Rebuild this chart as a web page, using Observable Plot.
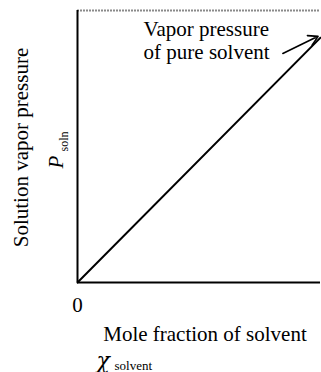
<!DOCTYPE html>
<html>
<head>
<meta charset="utf-8">
<script src="https://cdn.jsdelivr.net/npm/d3@7"></script>
<script src="https://cdn.jsdelivr.net/npm/@observablehq/plot@0.6"></script>
<style>
  html, body { margin: 0; padding: 0; background: #fff; }
</style>
</head>
<body>
<div id="chart"></div>
<script>
// ---- data ----
const moleFraction = [0, 1];           // χ_solvent
const vaporPressure = [0, 0.9];        // P_soln (relative)
const xTickValues = [0];
const xTitle = "Mole fraction of solvent";
const yTitle = "Solution vapor pressure";
const annotationLines = ["Vapor pressure", "of pure solvent"];
const annotationAt = [0.272, 0.82];    // x, y of last text line baseline start
const arrowFrom = [0.845, 0.842];
const arrowTo = [0.99, 0.905];

const serif = "Liberation Serif, Times New Roman, serif";
const points = moleFraction.map((x, i) => ({x, y: vaporPressure[i]}));

const chart = Plot.plot({
  width: 321,
  height: 372,
  marginLeft: 77,
  marginRight: 1,
  marginTop: 10,
  marginBottom: 90,
  style: {background: "#fff", fontFamily: serif, color: "#000"},
  x: {domain: [0, 1], axis: null},
  y: {domain: [0, 1], axis: null},
  marks: [
    Plot.ruleY([1], {stroke: "#8a8a8a", strokeWidth: 2, strokeDasharray: "2,1"}),
    Plot.ruleX([0], {stroke: "#000", strokeWidth: 2}),
    Plot.ruleY([0], {stroke: "#000", strokeWidth: 2}),
    Plot.line(points, {x: "x", y: "y", stroke: "#000", strokeWidth: 2}),
    Plot.arrow([0], {
      x1: () => arrowFrom[0], y1: () => arrowFrom[1],
      x2: () => arrowTo[0], y2: () => arrowTo[1],
      stroke: "#000", strokeWidth: 1.6, headLength: 10, bend: 0
    }),
    Plot.text([annotationLines.join("\n")], {
      x: () => annotationAt[0], y: () => annotationAt[1],
      text: d => d, textAnchor: "start", lineAnchor: "bottom",
      lineHeight: 1.14, fontSize: 21, fontFamily: serif, fill: "#000"
    }),
    Plot.axisX(xTickValues, {
      tickSize: 0, tickPadding: 15, label: null, tickFormat: d => String(d),
      fontSize: 21, fontFamily: serif, fill: "#000"
    }),
    Plot.text([xTitle], {
      frameAnchor: "bottom", text: d => d, lineAnchor: "bottom",
      dx: 6, dy: 58, fontSize: 21, fontFamily: serif, fill: "#000"
    }),
    Plot.text(["χ"], {
      frameAnchor: "bottom-left", text: d => d, textAnchor: "start", lineAnchor: "bottom",
      dx: 19, dy: 85, fontSize: 22, fontStyle: "italic", fontFamily: "DejaVu Serif, serif", fill: "#000"
    }),
    Plot.text(["solvent"], {
      frameAnchor: "bottom-left", text: d => d, textAnchor: "start", lineAnchor: "bottom",
      dx: 37, dy: 87, fontSize: 13, fontFamily: serif, fill: "#000"
    }),
    Plot.text([yTitle], {
      frameAnchor: "left", text: d => d, rotate: -90, textAnchor: "middle", lineAnchor: "bottom",
      dx: -50, dy: 1, fontSize: 21, fontFamily: serif, fill: "#000"
    }),
    Plot.text(["P"], {
      frameAnchor: "left", text: d => d, rotate: -90, textAnchor: "start", lineAnchor: "bottom",
      dx: -15, dy: 22, fontSize: 21, fontStyle: "italic", fontFamily: serif, fill: "#000"
    }),
    Plot.text(["soln"], {
      frameAnchor: "left", text: d => d, rotate: -90, textAnchor: "start", lineAnchor: "bottom",
      dx: -10, dy: 5, fontSize: 12, fontFamily: serif, fill: "#000"
    })
  ]
});
document.getElementById("chart").appendChild(chart);
</script>
</body>
</html>
